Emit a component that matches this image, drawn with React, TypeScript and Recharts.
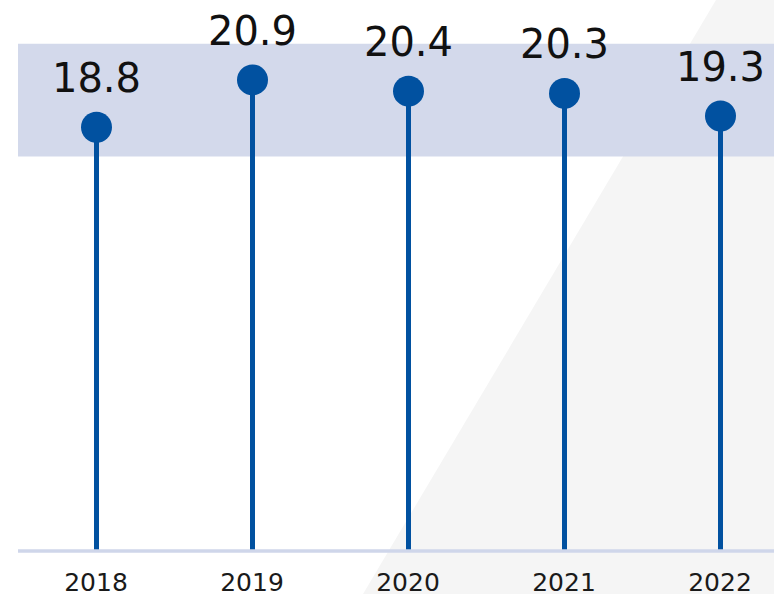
import React from 'react';
import { BarChart, Bar, XAxis, YAxis, ReferenceArea, LabelList } from 'recharts';

const years = ['2018', '2019', '2020', '2021', '2022'];
const values = [18.8, 20.9, 20.4, 20.3, 19.3];
const bandLow = 17.5;
const bandHigh = 22.5;
const yDomain = [0, 24];

const data = years.map((year, i) => ({ year, value: values[i] }));

const STEM = '#0151a0';
const FONT = '"DejaVu Sans", Verdana, sans-serif';

const Lollipop = (props: any) => {
  const { x, y, width, height } = props;
  const cx = x + width / 2;
  return (
    <g>
      <line x1={cx} y1={y} x2={cx} y2={y + height} stroke={STEM} strokeWidth={5} />
      <circle cx={cx} cy={y} r={15.5} fill={STEM} />
    </g>
  );
};

const ValueLabel = (props: any) => {
  const { x, y, width, value } = props;
  return (
    <text x={x + width / 2} y={y - 35} textAnchor="middle" fontSize={40} fill="#111" fontFamily={FONT}>
      {value}
    </text>
  );
};

const YearTick = (props: any) => {
  const { x, y, payload } = props;
  return (
    <text x={x} y={y + 32} textAnchor="middle" fontSize={25} fill="#1a1a1a" fontFamily={FONT}>
      {payload.value}
    </text>
  );
};

export default function App() {
  return (
    <div style={{ position: 'fixed', left: 0, top: 0, width: 774, height: 594, overflow: 'hidden', background: '#fff' }}>
      <div
        style={{
          position: 'absolute',
          left: 0,
          top: 0,
          width: 774,
          height: 594,
          background: '#f5f5f5',
          clipPath: 'polygon(716px 0px, 774px 0px, 774px 594px, 363px 594px)',
        }}
      />
      <div style={{ position: 'absolute', left: 0, top: 0 }}>
        <BarChart width={798} height={594} data={data} margin={{ top: 10, right: 0, left: 18, bottom: 0 }} barSize={5}>
          <ReferenceArea y1={bandLow} y2={bandHigh} fill="#d3d9eb" fillOpacity={1} stroke="none" />
          <XAxis
            dataKey="year"
            height={43}
            axisLine={{ stroke: '#cfd6ea', strokeWidth: 3.5 }}
            tickLine={false}
            tick={<YearTick />}
          />
          <YAxis hide domain={yDomain} />
          <Bar dataKey="value" shape={<Lollipop />} isAnimationActive={false}>
            <LabelList dataKey="value" content={<ValueLabel />} />
          </Bar>
        </BarChart>
      </div>
    </div>
  );
}
